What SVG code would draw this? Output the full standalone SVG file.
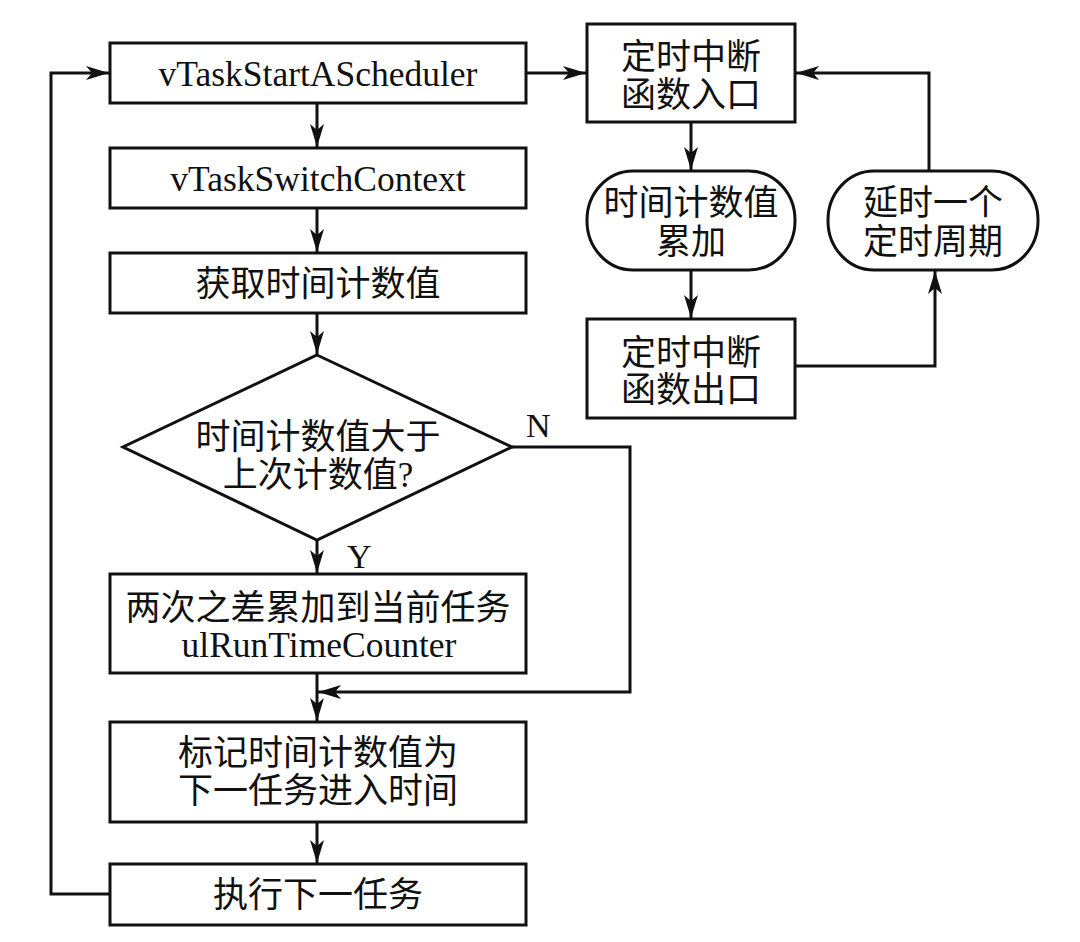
<svg xmlns="http://www.w3.org/2000/svg" width="1080" height="942" viewBox="0 0 1080 942">
<style>
.box{fill:#fff;stroke:#111;stroke-width:3}
.ln{fill:none;stroke:#111;stroke-width:3}
.t{font-family:"Liberation Serif","Noto Sans CJK SC",serif;font-size:35px;fill:#111;text-anchor:middle}
.l{font-family:"Liberation Serif","Noto Sans CJK SC",serif;font-size:35.5px;fill:#111;text-anchor:middle}
.lab{font-family:"Liberation Serif",serif;font-size:34px;fill:#111}
</style>
<defs>
<marker id="ah" markerUnits="userSpaceOnUse" markerWidth="26" markerHeight="16" refX="23" refY="7" orient="auto">
<path d="M0,0 L23,7 L0,14 L6,7 z" fill="#111"/>
</marker>
</defs>
<rect width="1080" height="942" fill="#fff"/>
<g id="connectors">
<path class="ln" d="M317,103 V147" marker-end="url(#ah)"/>
<path class="ln" d="M317,208 V252" marker-end="url(#ah)"/>
<path class="ln" d="M317,313 V354" marker-end="url(#ah)"/>
<path class="ln" d="M317,540 V573" marker-end="url(#ah)"/>
<path class="ln" d="M512,447 H630 V692 H318" marker-end="url(#ah)"/>
<path class="ln" d="M317,673 V721" marker-end="url(#ah)"/>
<path class="ln" d="M317,822 V863" marker-end="url(#ah)"/>
<path class="ln" d="M110,894 H51 V73 H109" marker-end="url(#ah)"/>
<path class="ln" d="M526,73 H586" marker-end="url(#ah)"/>
<path class="ln" d="M691,122 V170" marker-end="url(#ah)"/>
<path class="ln" d="M691,270 V318" marker-end="url(#ah)"/>
<path class="ln" d="M795,366 H935 V271" marker-end="url(#ah)"/>
<path class="ln" d="M929,171 V73 H796" marker-end="url(#ah)"/>
<text class="lab" x="526" y="437">N</text>
<text class="lab" x="347" y="568">Y</text>
</g>
<g id="n1"><rect class="box" x="110" y="43" width="416" height="60"/><text class="l" x="318" y="86">vTaskStartAScheduler</text></g>
<g id="n2"><rect class="box" x="110" y="148" width="416" height="60"/><text class="l" x="318" y="191">vTaskSwitchContext</text></g>
<g id="n3"><rect class="box" x="110" y="253" width="416" height="60"/><text class="t" x="318" y="296">获取时间计数值</text></g>
<g id="n4"><polygon class="box" points="317,355 512,447 317,540 123,447"/><text class="t" x="318" y="449">时间计数值大于</text><text class="t" x="318" y="487">上次计数值?</text></g>
<g id="n5"><rect class="box" x="110" y="574" width="416" height="99"/><text class="t" x="318" y="620">两次之差累加到当前任务</text><text class="l" x="319" y="657">ulRunTimeCounter</text></g>
<g id="n6"><rect class="box" x="110" y="722" width="416" height="100"/><text class="t" x="318" y="765">标记时间计数值为</text><text class="t" x="318" y="803">下一任务进入时间</text></g>
<g id="n7"><rect class="box" x="110" y="864" width="416" height="61"/><text class="t" x="318" y="907">执行下一任务</text></g>
<g id="nA"><rect class="box" x="587" y="24" width="208" height="98"/><text class="t" x="691" y="69">定时中断</text><text class="t" x="691" y="107">函数入口</text></g>
<g id="nP1"><rect class="box" x="587" y="171" width="208" height="99" rx="46" ry="49"/><text class="t" x="691" y="215">时间计数值</text><text class="t" x="691" y="254">累加</text></g>
<g id="nB"><rect class="box" x="587" y="319" width="208" height="99"/><text class="t" x="691" y="365">定时中断</text><text class="t" x="691" y="402">函数出口</text></g>
<g id="nP2"><rect class="box" x="828" y="171" width="210" height="99" rx="46" ry="49"/><text class="t" x="933" y="215">延时一个</text><text class="t" x="933" y="254">定时周期</text></g>
</svg>
